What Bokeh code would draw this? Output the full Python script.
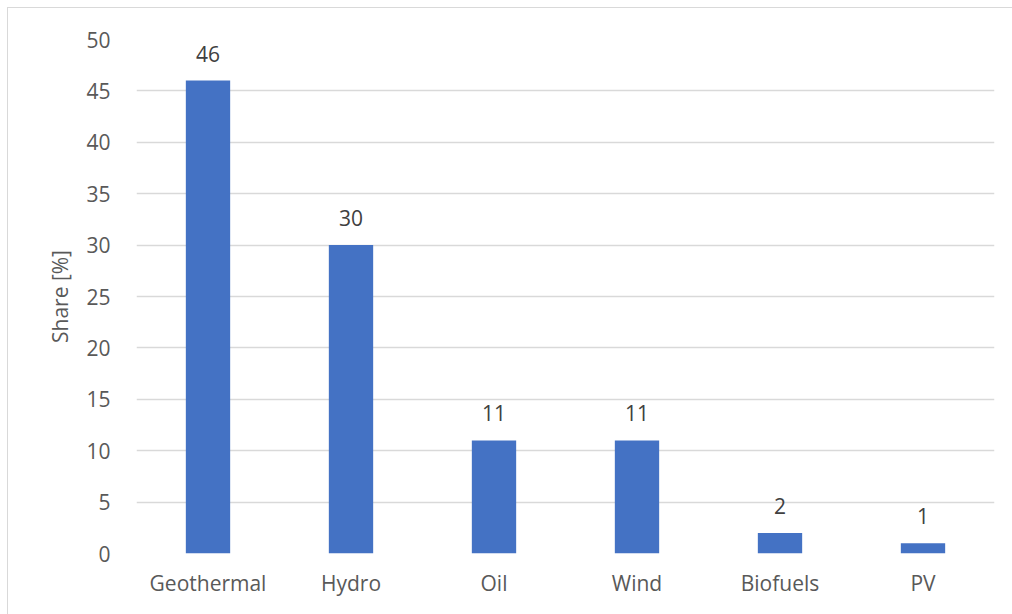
from bokeh.plotting import figure
from bokeh.models import ColumnDataSource, SingleIntervalTicker, Range1d, FactorRange
from bokeh.core.properties import value
from bokeh.embed import file_html
from bokeh.resources import INLINE

categories = ["Geothermal", "Hydro", "Oil", "Wind", "Biofuels", "PV"]
shares = [46, 30, 11, 11, 2, 1]
labels = [str(v) for v in shares]

FONT = "Open Sans"
TXT = "#595959"
FS = "21px"

src = ColumnDataSource(dict(cat=categories, val=shares, lab=labels))

p = figure(x_range=FactorRange(*categories, range_padding=0), y_range=Range1d(0, 50),
           width=1005, height=607, output_backend="svg", toolbar_location=None,
           min_border_left=128, min_border_right=19, min_border_top=31, min_border_bottom=62)
p.styles = {"border-top": "1.5px solid #d9d9d9", "border-left": "1.5px solid #d9d9d9",
            "margin-left": "7px", "margin-top": "7px"}
p.outline_line_color = None
p.background_fill_color = "white"
p.border_fill_color = "white"

p.vbar(x="cat", top="val", width=0.31, source=src, color="#4472C4", line_color=None)
p.text(x="cat", y="val", text="lab", source=src, text_align="center", text_baseline="alphabetic",
       y_offset=-27, text_font=value(FONT), text_font_size=FS, text_color="#404040")

p.yaxis.ticker = SingleIntervalTicker(interval=5)
p.ygrid.grid_line_color = "#d9d9d9"
p.ygrid.grid_line_width = 1.5
p.xgrid.grid_line_color = None

for ax in (p.xaxis, p.yaxis):
    ax.axis_line_color = None
    ax.major_tick_line_color = None
    ax.minor_tick_line_color = None
    ax.major_label_text_font = FONT
    ax.major_label_text_font_size = FS
    ax.major_label_text_color = TXT

p.yaxis.major_label_standoff = 20
p.xaxis.major_label_standoff = 9
p.yaxis.axis_label = "Share [%]"
p.yaxis.axis_label_text_font = FONT
p.yaxis.axis_label_text_font_size = FS
p.yaxis.axis_label_text_font_style = "normal"
p.yaxis.axis_label_text_color = TXT
p.yaxis.axis_label_standoff = 9

open("out.html", "w").write(file_html(p, INLINE))
